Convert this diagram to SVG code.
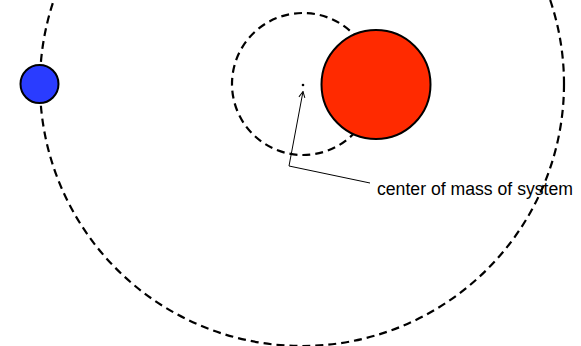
<svg xmlns="http://www.w3.org/2000/svg" width="581" height="346" viewBox="0 0 581 346">
<style>
.orbit{fill:none;stroke:#000;stroke-width:2.2;stroke-dasharray:8 5}
.body{stroke:#000;stroke-width:2}
.lead{fill:none;stroke:#000;stroke-width:1}
.lbl{font-family:"Liberation Sans",Arial,sans-serif;font-size:18px;fill:#000}
</style>
<defs>
<marker id="ah" markerWidth="8" markerHeight="8" refX="7" refY="4" orient="auto" markerUnits="userSpaceOnUse">
<path d="M1,1 L7,4 L1,7" fill="none" stroke="#000" stroke-width="1"/>
</marker>
</defs>
<rect width="581" height="346" fill="#fff"/>
<g id="orbits">
<circle class="orbit" cx="302" cy="84" r="262"/>
<circle class="orbit" cx="303" cy="84" r="71"/>
</g>
<g id="planet"><circle class="body" cx="39.5" cy="84" r="19" fill="#2a3cff"/></g>
<g id="star"><circle class="body" cx="376" cy="84.5" r="54.5" fill="#ff2a00"/></g>
<g id="com"><circle cx="303" cy="85" r="1.3" fill="#000"/></g>
<g id="connectors">
<polyline class="lead" points="370,183 289,166 303,91.5" marker-end="url(#ah)"/>
</g>
<g id="label"><text class="lbl" x="377" y="194.5" textLength="196" lengthAdjust="spacingAndGlyphs">center of mass of system</text></g>
</svg>
